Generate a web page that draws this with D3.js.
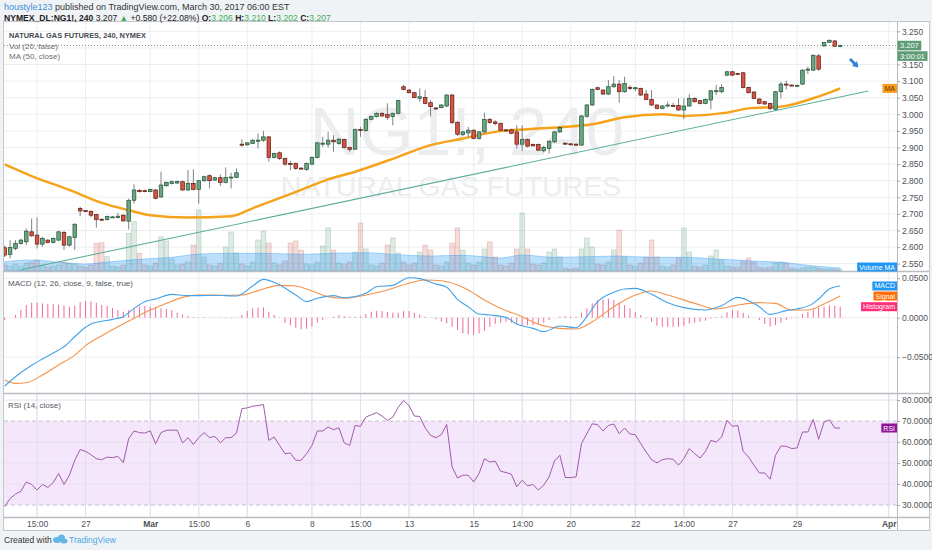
<!DOCTYPE html>
<html>
<head>
<meta charset="utf-8">
<script src="https://cdn.jsdelivr.net/npm/d3@7"></script>
<style>
  body { margin: 0; background: #f0f3f6; }
  svg { display: block; font-family: "Liberation Sans", Arial, sans-serif; }
</style>
</head>
<body>
<div id="vis"></div>
<script>
// frame and pane layout
const FRAME_WIDTH = 932;
const FRAME_HEIGHT = 550;
const PLOT = {left: 4, right: 897, top: 22, bottom: 517};
const PRICE_PANE = {top: 22, bottom: 271};
const MACD_PANE = {top: 272, bottom: 393};
const RSI_PANE = {top: 394, bottom: 517};

// 4h candles, NG1! (bar index 0..155)
const barOpen = [
  2.598, 2.578, 2.596, 2.611, 2.616, 2.646, 2.636, 2.609, 2.621, 2.614,
  2.621, 2.644, 2.606, 2.629, 2.716, 2.710, 2.708, 2.698, 2.684, 2.683,
  2.690, 2.689, 2.696, 2.678, 2.741, 2.771, 2.770, 2.767, 2.772, 2.751,
  2.785, 2.792, 2.793, 2.797, 2.772, 2.792, 2.774, 2.800, 2.815, 2.802,
  2.809, 2.795, 2.809, 2.810, 2.910, 2.908, 2.912, 2.919, 2.922, 2.932,
  2.870, 2.884, 2.867, 2.852, 2.852, 2.838, 2.834, 2.850, 2.870, 2.910,
  2.910, 2.922, 2.912, 2.924, 2.900, 2.895, 2.954, 2.951, 2.985, 2.993,
  3.003, 3.000, 2.993, 3.003, 3.083, 3.073, 3.065, 3.048, 3.051, 3.035,
  3.019, 3.020, 3.025, 3.058, 2.975, 2.939, 2.944, 2.952, 2.927, 2.947,
  2.985, 2.977, 2.972, 2.953, 2.953, 2.947, 2.910, 2.924, 2.909, 2.909,
  2.890, 2.897, 2.917, 2.947, 2.913, 2.911, 2.910, 2.907, 2.994, 3.028,
  3.080, 3.073, 3.061, 3.083, 3.091, 3.068, 3.081, 3.079, 3.078, 3.061,
  3.045, 3.028, 3.018, 3.025, 3.027, 3.027, 3.013, 3.025, 3.048, 3.041,
  3.033, 3.043, 3.070, 3.068, 3.118, 3.128, 3.123, 3.125, 3.081, 3.067,
  3.046, 3.038, 3.033, 3.015, 3.068, 3.091, 3.088, 3.087, 3.091, 3.133,
  3.133, 3.176, 3.206, 3.217, 3.221, 3.206
];
const barHigh = [
  2.605, 2.621, 2.621, 2.625, 2.656, 2.686, 2.689, 2.631, 2.624, 2.629,
  2.649, 2.649, 2.634, 2.671, 2.721, 2.712, 2.710, 2.700, 2.686, 2.695,
  2.694, 2.703, 2.699, 2.746, 2.789, 2.774, 2.773, 2.776, 2.775, 2.827,
  2.798, 2.800, 2.800, 2.800, 2.832, 2.834, 2.802, 2.815, 2.819, 2.812,
  2.819, 2.840, 2.824, 2.837, 2.925, 2.916, 2.925, 2.942, 2.950, 2.934,
  2.884, 2.888, 2.869, 2.860, 2.855, 2.840, 2.855, 2.873, 2.917, 2.932,
  2.947, 2.937, 2.929, 2.927, 2.902, 2.957, 2.962, 2.988, 2.996, 3.006,
  3.006, 3.033, 3.005, 3.044, 3.088, 3.076, 3.068, 3.078, 3.073, 3.043,
  3.022, 3.030, 3.061, 3.061, 2.980, 2.950, 2.962, 2.955, 2.950, 3.005,
  2.988, 2.982, 2.975, 2.955, 2.957, 2.967, 2.967, 2.927, 2.912, 2.912,
  2.905, 2.921, 2.950, 2.963, 2.915, 2.913, 2.912, 2.998, 3.031, 3.078,
  3.083, 3.075, 3.103, 3.115, 3.103, 3.113, 3.088, 3.083, 3.080, 3.073,
  3.073, 3.030, 3.028, 3.038, 3.035, 3.048, 3.048, 3.061, 3.051, 3.043,
  3.048, 3.073, 3.088, 3.091, 3.131, 3.131, 3.125, 3.128, 3.083, 3.070,
  3.048, 3.040, 3.035, 3.070, 3.098, 3.101, 3.090, 3.090, 3.136, 3.143,
  3.180, 3.182, 3.218, 3.225, 3.223, 3.210
];
const barLow = [
  2.570, 2.566, 2.591, 2.608, 2.606, 2.631, 2.596, 2.601, 2.611, 2.611,
  2.618, 2.591, 2.601, 2.591, 2.693, 2.705, 2.690, 2.659, 2.678, 2.680,
  2.688, 2.686, 2.676, 2.653, 2.731, 2.764, 2.765, 2.765, 2.744, 2.749,
  2.782, 2.789, 2.790, 2.770, 2.770, 2.771, 2.731, 2.797, 2.777, 2.799,
  2.784, 2.792, 2.777, 2.808, 2.902, 2.905, 2.910, 2.897, 2.917, 2.857,
  2.867, 2.862, 2.845, 2.832, 2.833, 2.833, 2.830, 2.846, 2.867, 2.902,
  2.900, 2.887, 2.908, 2.897, 2.887, 2.892, 2.932, 2.947, 2.982, 2.990,
  2.992, 2.983, 2.967, 3.000, 3.072, 3.063, 3.048, 3.038, 3.030, 2.993,
  3.014, 3.018, 3.022, 2.970, 2.935, 2.935, 2.932, 2.925, 2.924, 2.942,
  2.972, 2.967, 2.950, 2.948, 2.940, 2.897, 2.889, 2.900, 2.903, 2.889,
  2.885, 2.882, 2.914, 2.944, 2.908, 2.907, 2.906, 2.905, 2.990, 3.025,
  3.073, 3.058, 3.058, 3.080, 3.035, 3.065, 3.073, 3.070, 3.055, 3.043,
  3.025, 3.015, 3.015, 3.021, 3.022, 3.011, 2.985, 3.023, 3.035, 3.030,
  3.030, 3.015, 3.058, 3.063, 3.115, 3.115, 3.118, 3.078, 3.063, 3.045,
  3.030, 3.028, 3.013, 3.011, 3.048, 3.075, 3.084, 3.084, 3.088, 3.121,
  3.131, 3.131, 3.203, 3.215, 3.203, 3.202
];
const barClose = [
  2.576, 2.599, 2.611, 2.621, 2.648, 2.634, 2.609, 2.626, 2.614, 2.626,
  2.646, 2.606, 2.631, 2.669, 2.709, 2.707, 2.696, 2.683, 2.681, 2.692,
  2.691, 2.693, 2.679, 2.741, 2.772, 2.767, 2.767, 2.774, 2.747, 2.787,
  2.795, 2.797, 2.798, 2.772, 2.792, 2.774, 2.800, 2.812, 2.800, 2.809,
  2.795, 2.810, 2.811, 2.824, 2.908, 2.914, 2.922, 2.922, 2.932, 2.870,
  2.882, 2.867, 2.850, 2.850, 2.837, 2.836, 2.852, 2.870, 2.914, 2.913,
  2.922, 2.917, 2.925, 2.900, 2.894, 2.954, 2.952, 2.985, 2.993, 3.003,
  2.995, 2.991, 3.003, 3.041, 3.075, 3.065, 3.051, 3.053, 3.033, 3.023,
  3.017, 3.028, 3.058, 2.975, 2.940, 2.947, 2.952, 2.927, 2.947, 2.984,
  2.975, 2.972, 2.952, 2.950, 2.943, 2.910, 2.924, 2.904, 2.905, 2.892,
  2.900, 2.919, 2.947, 2.960, 2.910, 2.909, 2.908, 2.995, 3.028, 3.075,
  3.075, 3.061, 3.083, 3.091, 3.068, 3.093, 3.078, 3.080, 3.058, 3.045,
  3.028, 3.018, 3.025, 3.028, 3.025, 3.013, 3.025, 3.048, 3.038, 3.033,
  3.045, 3.071, 3.071, 3.081, 3.128, 3.118, 3.120, 3.081, 3.065, 3.048,
  3.033, 3.031, 3.018, 3.068, 3.091, 3.089, 3.086, 3.087, 3.133, 3.136,
  3.178, 3.136, 3.216, 3.223, 3.205, 3.207
];

// volume, relative units
const volumeValues = [
  6, 5, 7, 5, 8, 9, 11, 6, 4, 5,
  6, 9, 8, 7, 5, 4, 6, 27.7, 28.3, 14.3,
  5, 4, 6, 37.7, 49.3, 17.7, 6, 5, 8, 34,
  30, 12, 6, 7, 9, 26, 61, 14, 6, 5,
  8, 24, 39, 18, 7, 5, 9, 31, 40, 28,
  8, 6, 10, 28, 30, 21, 7, 6, 9, 25,
  43, 21, 8, 7, 9, 19, 48, 22, 6, 5,
  8, 26, 33, 18, 9, 6, 8, 19, 26, 21,
  6, 5, 9, 28, 43, 21, 8, 6, 9, 22,
  29, 14, 6, 5, 8, 22, 58, 22, 7, 6,
  8, 19, 22, 14, 3, 2, 3, 22, 33, 24,
  7, 6, 9, 21, 41, 14, 6, 5, 8, 14,
  31, 14, 5, 4, 6, 13, 43, 19, 5, 4,
  6, 15, 21, 11, 5, 4, 4, 10, 13, 9,
  4, 3, 4, 8, 9, 8, 3, 2, 3, 4,
  4, 3, 2, 2, 2, 1
];
const volMaBars   = [0, 5, 11, 15, 19, 25, 31, 36, 42, 48, 55, 61, 67, 73, 79, 85, 92, 96, 102, 108, 114, 120, 126, 133, 139, 145, 149, 155];
const volMaValues = [9.3, 11, 8.3, 7, 9, 11.7, 13.7, 17, 17.7, 17.7, 16.7, 17.7, 18.3, 16.3, 15, 15.7, 13, 16, 13.7, 14.3, 15, 13.7, 13.7, 11.7, 10, 8.3, 5.7, 3];

// MA (50, close)
const maBars   = [0, 5, 12, 18, 23, 27, 34, 42, 46, 55, 60, 65, 73, 79, 85, 91, 97, 103, 109, 115, 122, 126, 134, 138, 144, 149, 153, 155];
const maValues = [2.849, 2.814, 2.772, 2.733, 2.711, 2.696, 2.689, 2.693, 2.717, 2.772, 2.804, 2.827, 2.872, 2.907, 2.927, 2.947, 2.955, 2.961, 2.970, 2.991, 3.000, 2.995, 3.005, 3.018, 3.023, 3.043, 3.065, 3.078];

// hand drawn trend line (two anchors)
const trendBars   = [2.84, 160.2];
const trendPrices = [2.531, 3.070];

// MACD (12, 26, close, 9)
const macdBars = [0, 2, 5, 7, 10, 11, 13, 15, 16, 20, 22, 24, 26, 28, 31, 34, 36, 39, 43, 46, 48, 51, 54, 56, 58, 61, 63, 67, 69, 72, 75, 77, 80, 82, 84, 86,
  88, 90, 93, 95, 98, 100, 103, 106, 108, 110, 113, 115, 117, 120, 123, 126, 130, 133, 136, 138, 140, 142, 145, 147, 150, 151, 153, 155];
const macdValues = [-0.0865, -0.0747, -0.0603, -0.0523, -0.0409, -0.0367, -0.0241, -0.0122, -0.008, -0.0021, 0.0013, 0.0118, 0.0203, 0.0236, 0.0295, 0.0279, 0.0279, 0.0283, 0.0274, 0.0401, 0.0485, 0.0414, 0.0287, 0.0203, 0.0245, 0.0279, 0.0253, 0.0308, 0.0392, 0.0409, 0.0506, 0.0494, 0.0426, 0.0384, 0.0232, 0.0139,
  0.0046, 0.0034, 0.0004, -0.008, -0.0135, -0.0177, -0.0106, -0.0127, 0.0013, 0.0203, 0.0321, 0.0363, 0.0371, 0.0295, 0.019, 0.0127, 0.0097, 0.0152, 0.0257, 0.0215, 0.0139, 0.0042, 0.0089, 0.011, 0.0181, 0.0236, 0.0363, 0.0401];
const signalBars = [0, 2, 4, 7, 10, 13, 15, 18, 21, 24, 27, 30, 33, 36, 40, 44, 47, 51, 54, 57, 60, 63, 67, 71, 75, 78, 81, 84, 86,
  89, 92, 96, 99, 103, 106, 109, 113, 117, 120, 123, 128, 132, 136, 140, 143, 146, 149, 152, 155];
const signalValues = [-0.0789, -0.0831, -0.0823, -0.0726, -0.0599, -0.0473, -0.0354, -0.0228, -0.0114, -0.0008, 0.0097, 0.0181, 0.0257, 0.0287, 0.0283, 0.0287, 0.0342, 0.0409, 0.0401, 0.0338, 0.0266, 0.0245, 0.0287, 0.035, 0.0435, 0.0477, 0.0468, 0.0414, 0.035,
  0.0224, 0.0118, 0.0013, -0.0084, -0.0135, -0.0143, -0.0051, 0.0139, 0.0287, 0.0338, 0.0287, 0.0181, 0.011, 0.016, 0.019, 0.0181, 0.0097, 0.0097, 0.0173, 0.0274];
const histValues = [
  -0.003, 0, 0.0034, 0.0097, 0.016, 0.019, 0.019, 0.0181, 0.0173, 0.0169,
  0.0165, 0.0152, 0.0139, 0.0152, 0.0198, 0.0211, 0.0207, 0.019, 0.016, 0.0148,
  0.0122, 0.0097, 0.0076, 0.0097, 0.0118, 0.0139, 0.0148, 0.0139, 0.0131, 0.0118,
  0.011, 0.0097, 0.0063, 0.0042, 0.0021, 0.0008, 0.0004, 0.0008, 0.0004, 0,
  -0.0004, -0.0008, -0.0008, -0.0004, 0.0034, 0.0084, 0.0118, 0.0127, 0.0131, 0.0076,
  0.0034, 0.0004, -0.0063, -0.0097, -0.0127, -0.0148, -0.0139, -0.0114, -0.0063, -0.003,
  0, 0.0013, 0.0034, 0.0021, 0.0013, 0.0013, 0.0017, 0.0046, 0.0076, 0.0084,
  0.0084, 0.0072, 0.0063, 0.0063, 0.0084, 0.0084, 0.0063, 0.0042, 0.0013, -0.0004,
  -0.0021, -0.0051, -0.0072, -0.0114, -0.0156, -0.0198, -0.0207, -0.0219, -0.0198, -0.0165,
  -0.0114, -0.008, -0.0063, -0.0051, -0.0063, -0.008, -0.0093, -0.0097, -0.0093, -0.0084,
  -0.0063, -0.003, 0, 0.0013, 0.0021, 0.0013, 0.0013, 0.0063, 0.0118, 0.0181,
  0.0224, 0.0232, 0.0241, 0.0224, 0.019, 0.016, 0.0118, 0.0068, 0.0034, -0.0008,
  -0.0051, -0.0101, -0.0114, -0.0114, -0.0118, -0.0114, -0.0101, -0.0072, -0.0063, -0.0051,
  -0.0038, -0.0013, 0.0008, 0.0021, 0.0068, 0.0097, 0.0089, 0.0063, 0.0025, 0,
  -0.003, -0.008, -0.0114, -0.0093, -0.0063, -0.003, -0.0008, 0.0004, 0.0046, 0.0072,
  0.0106, 0.0127, 0.0139, 0.0156, 0.0152, 0.0139
];

// RSI (14, close)
const rsiValues = [
  29.2, 33.1, 35.2, 36.6, 41.0, 39.8, 37.1, 39.8, 38.4, 40.7,
  45.0, 39.8, 44.2, 51.3, 56.4, 55.6, 54.0, 52.1, 51.6, 52.8,
  52.6, 53.2, 50.2, 61.6, 65.3, 64.5, 64.3, 65.3, 59.2, 64.5,
  65.6, 65.7, 65.6, 59.6, 62.1, 58.9, 62.1, 64.5, 62.1, 62.7,
  59.6, 62.1, 62.1, 64.3, 75.9, 76.3, 77.1, 77.4, 77.9, 60.8,
  62.4, 58.4, 54.5, 54.8, 51.3, 51.3, 54.5, 58.4, 65.3, 65.3,
  67.2, 65.9, 66.8, 59.6, 58.4, 67.9, 67.5, 71.9, 73.0, 74.0,
  72.4, 70.3, 71.9, 76.6, 79.8, 77.4, 72.4, 72.2, 66.8, 63.2,
  62.1, 63.5, 68.4, 48.2, 42.9, 44.2, 44.2, 41.0, 45.0, 52.1,
  50.5, 50.9, 46.1, 45.5, 44.7, 38.7, 41.8, 39.1, 39.8, 37.1,
  39.5, 43.4, 51.0, 53.7, 43.1, 43.1, 43.4, 59.2, 64.0, 68.7,
  68.3, 65.3, 67.9, 68.6, 64.0, 66.7, 63.8, 63.5, 59.2, 55.3,
  51.6, 50.1, 51.6, 52.1, 51.8, 49.0, 52.1, 56.9, 54.5, 52.4,
  55.6, 60.8, 60.0, 62.4, 70.3, 67.5, 67.9, 55.6, 52.9, 49.0,
  45.3, 45.3, 42.3, 53.7, 58.1, 58.0, 56.9, 57.2, 64.8, 64.8,
  70.8, 61.3, 69.5, 70.6, 66.7, 66.7
];

// axis ticks
const timeTickBars   = [6, 15, 27, 36, 45, 57, 66, 75, 87, 96, 105, 117, 126, 135, 147, 164];
const timeTickLabels = ["15:00", "27", "Mar", "15:00", "6", "8", "15:00", "13", "15", "14:00", "20", "22", "14:00", "27", "29", "Apr"];
const priceGridTicks = [2.55, 2.60, 2.65, 2.70, 2.75, 2.80, 2.85, 2.90, 2.95, 3.00, 3.05, 3.10, 3.15, 3.20, 3.25];
// 3.200 sits under the last price badge, so it carries no label
const priceLabelTicks = [2.55, 2.60, 2.65, 2.70, 2.75, 2.80, 2.85, 2.90, 2.95, 3.00, 3.05, 3.10, 3.15, 3.25];
const macdTicks = [0.05, 0, -0.05];
const rsiTicks = [30, 40, 50, 60, 70, 80];
const lastPrice = 3.207;

// colours
const UP_FILL = "#6ba583", UP_LINE = "#225437";
const DOWN_FILL = "#d75442", DOWN_LINE = "#5b1a13";
const WICK = "#737375";
const GRID = "#ebeef1";
const AXIS_TEXT = "#4e5257";

// scales
const X = d3.scaleLinear().domain([0, 155]).range([4.7, 840.2]);
const Y_PRICE = d3.scaleLinear().domain([2.528, 3.278]).range([PRICE_PANE.bottom, PRICE_PANE.top]);
const Y_VOL = d3.scaleLinear().domain([0, 100]).range([PRICE_PANE.bottom, PRICE_PANE.bottom - 100]);
const Y_MACD = d3.scaleLinear().domain([-0.0953, 0.0578]).range([MACD_PANE.bottom, MACD_PANE.top]);
const Y_RSI = d3.scaleLinear().domain([24.3, 82.9]).range([RSI_PANE.bottom, RSI_PANE.top]);

const bars = d3.range(barClose.length).map((i) => ({
  i: i, o: barOpen[i], h: barHigh[i], l: barLow[i], c: barClose[i],
  v: volumeValues[i], hist: histValues[i], rsi: rsiValues[i]
}));

const FRAME = d3.select("#vis")
  .append("svg")
    .attr("width", FRAME_WIDTH)
    .attr("height", FRAME_HEIGHT);

// page background + chart area
FRAME.append("rect")
    .attr("width", FRAME_WIDTH).attr("height", FRAME_HEIGHT)
    .attr("fill", "#f0f3f6");
FRAME.append("rect")
    .attr("x", 3.5).attr("y", 21.5)
    .attr("width", 926).attr("height", 509)
    .attr("fill", "#ffffff")
    .attr("stroke", "#c3c7cc");

// clip paths per pane
const defs = FRAME.append("defs");
[["clipPrice", PRICE_PANE], ["clipMacd", MACD_PANE], ["clipRsi", RSI_PANE]].forEach(([id, p]) => {
  defs.append("clipPath").attr("id", id)
    .append("rect")
      .attr("x", PLOT.left).attr("y", p.top)
      .attr("width", PLOT.right - PLOT.left).attr("height", p.bottom - p.top);
});

// ---------- grid ----------
const grid = FRAME.append("g");
grid.selectAll(".vgrid")
    .data(timeTickBars)
    .enter()
    .append("line")
      .attr("x1", (d) => X(d)).attr("x2", (d) => X(d))
      .attr("y1", PLOT.top).attr("y2", PLOT.bottom)
      .attr("stroke", GRID);
grid.selectAll(".pgrid")
    .data(priceGridTicks)
    .enter()
    .append("line")
      .attr("x1", PLOT.left).attr("x2", PLOT.right)
      .attr("y1", (d) => Y_PRICE(d)).attr("y2", (d) => Y_PRICE(d))
      .attr("stroke", GRID);
grid.selectAll(".mgrid")
    .data(macdTicks)
    .enter()
    .append("line")
      .attr("x1", PLOT.left).attr("x2", PLOT.right)
      .attr("y1", (d) => Y_MACD(d)).attr("y2", (d) => Y_MACD(d))
      .attr("stroke", GRID);

// ---------- watermark ----------
FRAME.append("text")
    .attr("x", 467).attr("y", 155)
    .attr("text-anchor", "middle")
    .attr("font-size", 69)
    .attr("fill", "#ebedef")
    .text("NG1!, 240");
FRAME.append("text")
    .attr("x", 451).attr("y", 196)
    .attr("text-anchor", "middle")
    .attr("font-size", 28.5)
    .attr("fill", "#ebedef")
    .text("NATURAL GAS FUTURES");

// ---------- price pane ----------
const pricePane = FRAME.append("g").attr("clip-path", "url(#clipPrice)");

// volume bars
pricePane.selectAll(".vol")
    .data(bars)
    .enter()
    .append("rect")
      .attr("x", (d) => X(d.i) - 2.3)
      .attr("width", 4.6)
      .attr("y", (d) => Y_VOL(d.v))
      .attr("height", (d) => Y_VOL(0) - Y_VOL(d.v))
      .attr("fill", (d) => d.c >= d.o ? "rgba(107,165,131,0.22)" : "rgba(215,84,66,0.2)")
      .attr("stroke", (d) => d.c >= d.o ? "rgba(107,165,131,0.45)" : "rgba(190,120,110,0.45)")
      .attr("stroke-width", 0.6);

// volume MA area
const volMaData = volMaBars.map((b, k) => ({b: b, v: volMaValues[k]}));
pricePane.append("path")
    .datum(volMaData)
    .attr("d", d3.area()
      .x((d) => X(d.b))
      .y0(Y_VOL(0))
      .y1((d) => Y_VOL(d.v))
      .curve(d3.curveMonotoneX))
    .attr("fill", "rgba(33,150,243,0.3)")
    .attr("stroke", "rgba(33,150,243,0.35)");

// trend line
pricePane.append("line")
    .attr("x1", X(trendBars[0])).attr("y1", Y_PRICE(trendPrices[0]))
    .attr("x2", X(trendBars[1])).attr("y2", Y_PRICE(trendPrices[1]))
    .attr("stroke", "#5fae9c")
    .attr("stroke-width", 1.1);

// MA 50
const maData = maBars.map((b, k) => ({b: b, v: maValues[k]}));
pricePane.append("path")
    .datum(maData)
    .attr("d", d3.line()
      .x((d) => X(d.b))
      .y((d) => Y_PRICE(d.v))
      .curve(d3.curveMonotoneX))
    .attr("fill", "none")
    .attr("stroke", "#f7a21b")
    .attr("stroke-width", 2.4);

// current price line
pricePane.append("line")
    .attr("x1", PLOT.left).attr("x2", PLOT.right)
    .attr("y1", Y_PRICE(lastPrice)).attr("y2", Y_PRICE(lastPrice))
    .attr("stroke", "#8a8d91")
    .attr("stroke-dasharray", "1,2");

// candles
const candles = pricePane.selectAll(".candle")
    .data(bars)
    .enter()
    .append("g");
candles.append("line")
    .attr("x1", (d) => X(d.i)).attr("x2", (d) => X(d.i))
    .attr("y1", (d) => Y_PRICE(d.h)).attr("y2", (d) => Y_PRICE(d.l))
    .attr("stroke", WICK)
    .attr("stroke-width", 0.9);
candles.append("rect")
    .attr("x", (d) => X(d.i) - 1.8)
    .attr("width", 3.6)
    .attr("y", (d) => Y_PRICE(Math.max(d.o, d.c)))
    .attr("height", (d) => Math.max(1, Y_PRICE(Math.min(d.o, d.c)) - Y_PRICE(Math.max(d.o, d.c))))
    .attr("fill", (d) => d.c >= d.o ? UP_FILL : DOWN_FILL)
    .attr("stroke", (d) => d.c >= d.o ? UP_LINE : DOWN_LINE)
    .attr("stroke-width", 0.7);

// little blue arrow drawing
FRAME.append("path")
    .attr("d", "M851,58 L855.5,62.5 L857,61 L858.5,67.5 L852,66 L853.5,64.5 L849,60 Z")
    .attr("fill", "#2f80d8");

// ---------- MACD pane ----------
const macdPane = FRAME.append("g").attr("clip-path", "url(#clipMacd)");
macdPane.selectAll(".hist")
    .data(bars)
    .enter()
    .append("line")
      .attr("x1", (d) => X(d.i)).attr("x2", (d) => X(d.i))
      .attr("y1", Y_MACD(0)).attr("y2", (d) => Y_MACD(d.hist))
      .attr("stroke", "#ef6a97")
      .attr("stroke-width", 1);
const macdData = macdBars.map((b, k) => ({b: b, v: macdValues[k]}));
const signalData = signalBars.map((b, k) => ({b: b, v: signalValues[k]}));
const macdLine = d3.line()
    .x((d) => X(d.b))
    .y((d) => Y_MACD(d.v))
    .curve(d3.curveMonotoneX);
macdPane.append("path")
    .datum(signalData)
    .attr("d", macdLine)
    .attr("fill", "none")
    .attr("stroke", "#f4934c")
    .attr("stroke-width", 1.1);
macdPane.append("path")
    .datum(macdData)
    .attr("d", macdLine)
    .attr("fill", "none")
    .attr("stroke", "#44a2e8")
    .attr("stroke-width", 1.1);

// ---------- RSI pane ----------
const rsiPane = FRAME.append("g").attr("clip-path", "url(#clipRsi)");
rsiPane.append("rect")
    .attr("x", PLOT.left).attr("width", PLOT.right - PLOT.left)
    .attr("y", Y_RSI(70)).attr("height", Y_RSI(30) - Y_RSI(70))
    .attr("fill", "#f4e6fb");
rsiPane.selectAll(".rgrid")
    .data(rsiTicks)
    .enter()
    .append("line")
      .attr("x1", PLOT.left).attr("x2", PLOT.right)
      .attr("y1", (d) => Y_RSI(d)).attr("y2", (d) => Y_RSI(d))
      .attr("stroke", (d) => (d === 70 || d === 30) ? "#c6c3ca" : "#e8e0ee")
      .attr("stroke-dasharray", (d) => (d === 70 || d === 30) ? "4,3" : null);
rsiPane.selectAll(".vgridr")
    .data(timeTickBars)
    .enter()
    .append("line")
      .attr("x1", (d) => X(d)).attr("x2", (d) => X(d))
      .attr("y1", RSI_PANE.top).attr("y2", RSI_PANE.bottom)
      .attr("stroke", "#e4dcea");
rsiPane.append("path")
    .datum(bars)
    .attr("d", d3.line()
      .x((d) => X(d.i))
      .y((d) => Y_RSI(d.rsi)))
    .attr("fill", "none")
    .attr("stroke", "#a05aac")
    .attr("stroke-width", 1);

// ---------- pane separators ----------
[PRICE_PANE.bottom + 0.5, MACD_PANE.bottom + 0.5, RSI_PANE.bottom + 0.5].forEach((y) => {
  FRAME.append("line")
      .attr("x1", 3.5).attr("x2", 929.5)
      .attr("y1", y).attr("y2", y)
      .attr("stroke", "#b9bdc2")
      .attr("stroke-width", 1.6);
});
FRAME.append("line")
    .attr("x1", PLOT.right + 0.5).attr("x2", PLOT.right + 0.5)
    .attr("y1", PLOT.top).attr("y2", 530)
    .attr("stroke", "#b9bdc2");

// ---------- axes ----------
function styleAxis(g) {
  g.select(".domain").remove();
  g.selectAll("line").attr("stroke", "#a4a8ad");
  g.selectAll("text")
      .attr("font-size", 8.5)
      .attr("fill", AXIS_TEXT)
      .attr("font-family", "Liberation Sans, Arial, sans-serif");
}
FRAME.append("g")
    .attr("transform", `translate(${PLOT.right},0)`)
    .call(d3.axisRight(Y_PRICE).tickValues(priceLabelTicks).tickFormat(d3.format(".3f")).tickSize(3).tickPadding(2))
    .call(styleAxis);
FRAME.append("g")
    .attr("transform", `translate(${PLOT.right},0)`)
    .call(d3.axisRight(Y_MACD).tickValues(macdTicks).tickFormat(d3.format(".4f")).tickSize(3).tickPadding(2))
    .call(styleAxis);
FRAME.append("g")
    .attr("transform", `translate(${PLOT.right},0)`)
    .call(d3.axisRight(Y_RSI).tickValues(rsiTicks).tickFormat(d3.format(".4f")).tickSize(3).tickPadding(2))
    .call(styleAxis);
FRAME.append("g")
    .attr("transform", `translate(0,${PLOT.bottom})`)
    .call(d3.axisBottom(X).tickValues(timeTickBars).tickFormat((d, k) => timeTickLabels[k]).tickSize(0).tickPadding(4))
    .call(styleAxis)
    .call((g) => g.selectAll("text")
      .attr("font-weight", (d, k) => (timeTickLabels[k] === "Mar" || timeTickLabels[k] === "Apr") ? "bold" : null));

// ---------- badges (right aligned to the price axis) ----------
function badge(right, yMid, fill, label, color) {
  const g = FRAME.append("g");
  const t = g.append("text")
      .attr("y", yMid + 2.5)
      .attr("text-anchor", "middle")
      .attr("font-size", 7)
      .attr("fill", color)
      .text(label);
  const w = t.node().getComputedTextLength() + 4;
  t.attr("x", right - w / 2);
  g.insert("rect", "text")
      .attr("x", right - w).attr("y", yMid - 4.5)
      .attr("width", w).attr("height", 9)
      .attr("fill", fill);
}
function axisBadge(yMid, fill, label) {
  const g = FRAME.append("g");
  const t = g.append("text")
      .attr("x", PLOT.right + 3)
      .attr("y", yMid + 2.6)
      .attr("font-size", 7.5)
      .attr("fill", "#ffffff")
      .text(label);
  const w = t.node().getComputedTextLength() + 5;
  g.insert("rect", "text")
      .attr("x", PLOT.right + 0.5).attr("y", yMid - 4.8)
      .attr("width", w).attr("height", 9.6)
      .attr("fill", fill);
}
axisBadge(Y_PRICE(lastPrice), "#5e9c76", d3.format(".3f")(lastPrice));
axisBadge(Y_PRICE(lastPrice) + 10.5, "#5e9c76", "3:00:01");
badge(PLOT.right, Y_PRICE(maValues[maValues.length - 1]), "#ff9d1c", "MA", "#5a3a00");
badge(PLOT.right, Y_VOL(volMaValues[volMaValues.length - 1]) - 1, "#2196f3", "Volume MA", "#ffffff");
badge(PLOT.right, Y_MACD(macdValues[macdValues.length - 1]), "#2196f3", "MACD", "#ffffff");
badge(PLOT.right, Y_MACD(signalValues[signalValues.length - 1]), "#ff6d00", "Signal", "#ffffff");
badge(PLOT.right, Y_MACD(histValues[histValues.length - 1]), "#ff2d78", "Histogram", "#ffffff");
badge(PLOT.right, Y_RSI(rsiValues[rsiValues.length - 1]), "#8e1599", "RSI", "#ffffff");

// ---------- legends ----------
FRAME.append("text")
    .attr("x", 9).attr("y", 38)
    .attr("font-size", 7.4).attr("font-weight", "bold").attr("fill", "#454a50")
    .text("NATURAL GAS FUTURES, 240, NYMEX");
FRAME.append("text")
    .attr("x", 9).attr("y", 48.5)
    .attr("font-size", 8).attr("fill", "#6a6e73")
    .text("Vol (20, false)");
FRAME.append("text")
    .attr("x", 9).attr("y", 59)
    .attr("font-size", 8).attr("fill", "#6a6e73")
    .text("MA (50, close)");
FRAME.append("text")
    .attr("x", 8).attr("y", 286)
    .attr("font-size", 8).attr("fill", "#555a60")
    .text("MACD (12, 26, close, 9, false, true)");
FRAME.append("text")
    .attr("x", 8).attr("y", 407.5)
    .attr("font-size", 8).attr("fill", "#555a60")
    .text("RSI (14, close)");

// ---------- header ----------
const head1 = FRAME.append("text")
    .attr("x", 4).attr("y", 10)
    .attr("font-size", 9).attr("fill", "#333");
head1.append("tspan").attr("fill", "#3d8fd8").text("houstyle123");
head1.append("tspan").text(" published on TradingView.com, March 30, 2017 06:00 EST");

const GREEN_TXT = "#3fae5a";
const head2 = FRAME.append("text")
    .attr("x", 4).attr("y", 20.5)
    .attr("font-size", 8.6).attr("fill", "#222");
head2.append("tspan").attr("font-weight", "bold").text("NYMEX_DL:NG1!, 240");
head2.append("tspan").text("  3.207 ");
head2.append("tspan").attr("fill", GREEN_TXT).text("▲");
head2.append("tspan").text(" +0.580 (+22.08%) ");
[["O:", "3.206"], ["H:", "3.210"], ["L:", "3.202"], ["C:", "3.207"]].forEach(([k, v]) => {
  head2.append("tspan").attr("font-weight", "bold").text(" " + k);
  head2.append("tspan").attr("fill", GREEN_TXT).text(v);
});

// ---------- footer ----------
FRAME.append("text")
    .attr("x", 4).attr("y", 543)
    .attr("font-size", 8.5).attr("fill", "#333")
    .text("Created with");
const logo = FRAME.append("g").attr("fill", "#62b6e8");
logo.append("ellipse").attr("cx", 57).attr("cy", 540).attr("rx", 4).attr("ry", 3);
logo.append("ellipse").attr("cx", 61.5).attr("cy", 538).attr("rx", 3.5).attr("ry", 3.5);
logo.append("ellipse").attr("cx", 64).attr("cy", 541).attr("rx", 3.5).attr("ry", 2.5);
FRAME.append("text")
    .attr("x", 69).attr("y", 543)
    .attr("font-size", 8.5).attr("fill", "#4aa9e3")
    .text("TradingView");
</script>
</body>
</html>
